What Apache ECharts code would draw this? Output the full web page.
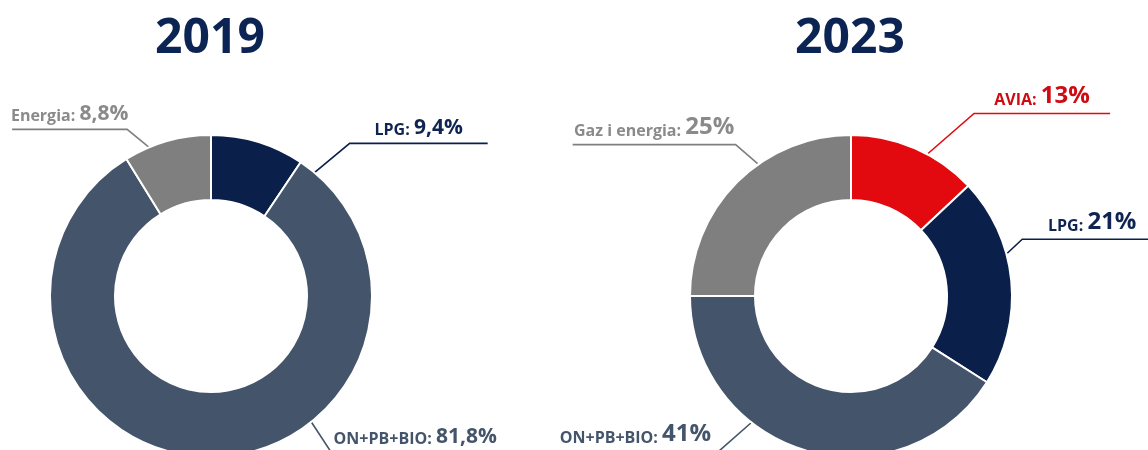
<!DOCTYPE html>
<html>
<head>
<meta charset="utf-8">
<script src="https://cdn.jsdelivr.net/npm/echarts@6/dist/echarts.min.js"></script>
<style>
  html, body { margin: 0; padding: 0; background: #fff; }
  #chart { width: 1148px; height: 450px; }
</style>
</head>
<body>
<div id="chart"></div>
<script>
// dane
const years = ['2019', '2023'];
const names2019 = ['LPG', 'ON+PB+BIO', 'Energia'];
const values2019 = [9.4, 81.8, 8.8];
const names2023 = ['AVIA', 'LPG', 'ON+PB+BIO', 'Gaz i energia'];
const values2023 = [13, 21, 41, 25];

const colors = {
  'AVIA': '#e30a0f',
  'LPG': '#0b1f4b',
  'ON+PB+BIO': '#44546a',
  'Energia': '#7f7f7f',
  'Gaz i energia': '#7f7f7f'
};
const textColors = {
  'AVIA': '#cf0a12',
  'LPG': '#0f2452',
  'ON+PB+BIO': '#44546a',
  'Energia': '#8a8a8a',
  'Gaz i energia': '#8a8a8a'
};

const centers = [[211, 296], [851, 296]];
const radius = [96, 161];

// polozenie etykiet: [kat, promien, dx lamania, dy lamania, dlugosc poziomej]
const labelGeom = [
  {
    'LPG': [38.9, 146, 47, -39, 138],
    'ON+PB+BIO': [141.4, 159, 21, 32, 168],
    'Energia': [337.4, 161, -22, -18, -115]
  },
  {
    'AVIA': [28.4, 162, 46, -40, 136],
    'LPG': [74.7, 162, 15, -14, 140],
    'ON+PB+BIO': [218.2, 161, -33, 29, -166],
    'Gaz i energia': [324.8, 162, -22, -19, -163]
  }
];
const nameFont = 16;
const valueFont = [21, 24];

const fmt = (v) => String(v).replace('.', ',') + '%';

function buildData(names, values, si) {
  const vf = valueFont[si];
  return names.map((n, i) => ({
    name: n,
    value: values[i],
    itemStyle: { color: colors[n] },
    label: {
      formatter: '{a|' + n + ': }{b|' + fmt(values[i]) + '}',
      rich: {
        a: { color: textColors[n], fontSize: nameFont, fontWeight: 'bold', fontFamily: 'Open Sans', lineHeight: Math.round(nameFont * 0.6 + 8), verticalAlign: 'bottom' },
        b: { color: textColors[n], fontSize: vf, fontWeight: 'bold', fontFamily: 'Open Sans', lineHeight: Math.round(vf * 0.6 + 8), verticalAlign: 'bottom' }
      }
    },
    labelLine: { lineStyle: { color: colors[n] } }
  }));
}

function makeLayout(si) {
  return function (params) {
    const name = (si === 0 ? names2019 : names2023)[params.dataIndex];
    const g = labelGeom[si][name];
    const c = centers[si];
    const a = g[0] * Math.PI / 180;
    const p0 = [c[0] + g[1] * Math.sin(a), c[1] - g[1] * Math.cos(a)];
    const p1 = [p0[0] + g[2], p0[1] + g[3]];
    const p2 = [p1[0] + g[4], p1[1]];
    return {
      x: p1[0] + g[4] / 2,
      y: p1[1] - 5,
      align: 'center',
      verticalAlign: 'bottom',
      labelLinePoints: [p0, p1, p2]
    };
  };
}

const chart = echarts.init(document.getElementById('chart'), null, { renderer: 'canvas' });

const seriesBase = (si, data) => ({
  type: 'pie',
  center: centers[si],
  radius: radius,
  startAngle: 90,
  clockwise: true,
  avoidLabelOverlap: false,
  silent: true,
  itemStyle: { borderColor: '#fff', borderWidth: 2 },
  label: { show: true, position: 'outside' },
  labelLine: { show: true, length: 10, length2: 10, smooth: false, lineStyle: { width: 1.6 } },
  labelLayout: makeLayout(si),
  emphasis: { disabled: true },
  data: data
});

chart.setOption({
  animation: false,
  backgroundColor: '#fff',
  title: years.map((y, i) => ({
    text: y,
    left: centers[i][0] - 6,
    top: 10,
    textAlign: 'center',
    textStyle: { color: '#0c2454', fontSize: 48, fontWeight: 'bold', fontFamily: 'Open Sans' }
  })),
  series: [
    seriesBase(0, buildData(names2019, values2019, 0)),
    seriesBase(1, buildData(names2023, values2023, 1))
  ]
});
</script>
</body>
</html>
